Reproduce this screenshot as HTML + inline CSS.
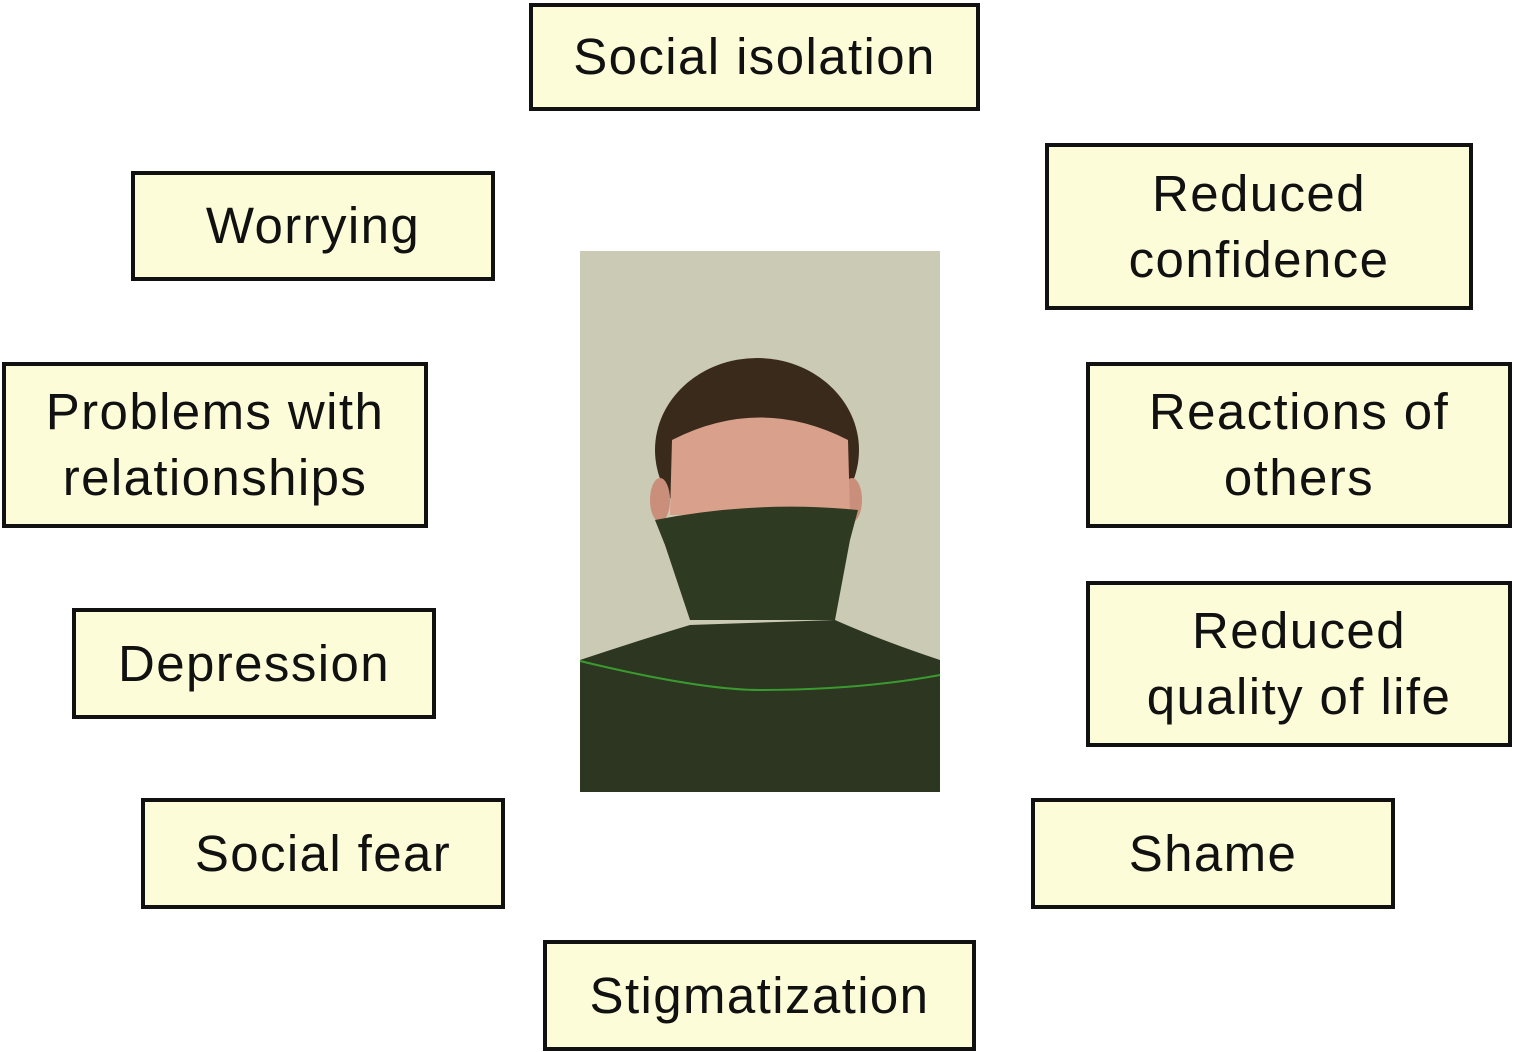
<!DOCTYPE html>
<html><head><style>
body{margin:0;width:1514px;height:1052px;background:#fff;position:relative;overflow:hidden;font-family:"Liberation Sans",Arial,sans-serif}
.b{position:absolute;box-sizing:border-box;border:4px solid #111;background:#fdfcd8;display:flex;align-items:center;justify-content:center;text-align:center;font-size:51px;letter-spacing:1.4px;line-height:66px;color:#111}
svg{position:absolute;left:0;top:0}
</style></head><body>
<svg width="1514" height="1052">
<rect x="580" y="251" width="360" height="541" fill="#cacab5"/>
<ellipse cx="757" cy="450" rx="102" ry="92" fill="#3a2a1c"/>
<ellipse cx="660" cy="500" rx="10" ry="22" fill="#c98f7a"/>
<ellipse cx="852" cy="500" rx="10" ry="22" fill="#c98f7a"/>
<path d="M672 440 Q760 395 848 440 L850 515 L670 515 Z" fill="#d9a08c"/>
<path d="M655 520 Q757 500 858 510 L850 540 L835 620 L690 620 L665 545 Z" fill="#2f3a22"/>
<path d="M580 660 Q640 640 690 625 L835 620 Q880 640 940 660 L940 792 L580 792 Z" fill="#2c3620"/>
<path d="M580 661 Q700 690 760 690 Q860 690 940 675" stroke="#3a9a30" stroke-width="2" fill="none"/>
</svg>
<div class="b" style="left:529px;top:3px;width:451px;height:108px">Social isolation</div>
<div class="b" style="left:131px;top:171px;width:364px;height:110px">Worrying</div>
<div class="b" style="left:2px;top:362px;width:426px;height:166px">Problems with<br>relationships</div>
<div class="b" style="left:72px;top:608px;width:364px;height:111px">Depression</div>
<div class="b" style="left:141px;top:798px;width:364px;height:111px">Social fear</div>
<div class="b" style="left:543px;top:940px;width:433px;height:111px">Stigmatization</div>
<div class="b" style="left:1045px;top:143px;width:428px;height:167px">Reduced<br>confidence</div>
<div class="b" style="left:1086px;top:362px;width:426px;height:166px">Reactions of<br>others</div>
<div class="b" style="left:1086px;top:581px;width:426px;height:166px">Reduced<br>quality of life</div>
<div class="b" style="left:1031px;top:798px;width:364px;height:111px">Shame</div>
</body></html>
